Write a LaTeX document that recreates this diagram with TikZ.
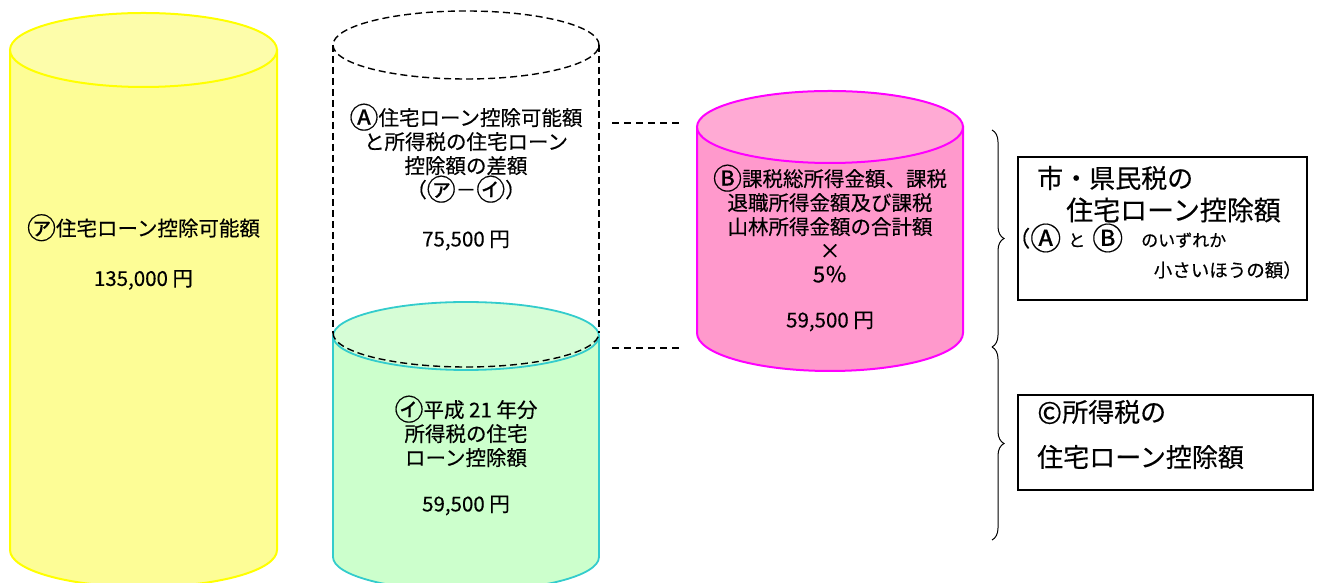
\documentclass[tikz,border=0pt]{standalone}
\usepackage{fontspec}
\setmainfont{Noto Sans CJK JP}[UprightFeatures={FakeBold=0.35}]
\usetikzlibrary{decorations.pathreplacing}
\definecolor{ybody}{HTML}{FDFD96}
\definecolor{ytop}{HTML}{FDFDAA}
\definecolor{yline}{HTML}{FFFF00}
\definecolor{gbody}{HTML}{CCFFCC}
\definecolor{gtop}{HTML}{D6FDD6}
\definecolor{gline}{HTML}{33CCCC}
\definecolor{pbody}{HTML}{FF99CC}
\definecolor{ptop}{HTML}{FFAAD4}
\definecolor{pline}{HTML}{FF00FF}
\newcommand\encbig[1]{\raisebox{-2.8pt}{\fontsize{29}{29}\selectfont #1}}
\newcommand\encbox[1]{\raisebox{-3.2pt}{\fontsize{31}{31}\selectfont #1}}
\begin{document}
\begin{tikzpicture}[x=1pt,y=1pt,
  ycyl/.style={draw=yline,fill=ybody,line width=2pt},
  ycap/.style={draw=yline,fill=ytop,line width=2pt},
  gcyl/.style={draw=gline,fill=gbody,line width=1.8pt},
  gcap/.style={draw=gline,fill=gtop,line width=1.8pt},
  pcyl/.style={draw=pline,fill=pbody,line width=2pt},
  pcap/.style={draw=pline,fill=ptop,line width=2pt},
  dcyl/.style={draw=black,line width=1.4pt,dash pattern=on 7pt off 4pt},
  linkline/.style={draw=black,line width=1.4pt,dash pattern=on 7pt off 5pt},
  cyltext/.style={align=center,font=\fontsize{20.5}{24}\selectfont,text=black,inner sep=0pt},
  framebox/.style={draw=black,line width=1.2pt},
  bracestyle/.style={draw=black,line width=1pt,decorate,decoration={brace,amplitude=12pt}}
]
\useasboundingbox (0,0) rectangle (1319,583);
% yellow cylinder
\draw[ycyl] (277,533) -- (10,533) -- (10,33) arc[start angle=180,end angle=360,x radius=133.5,y radius=37] -- cycle;
\draw[ycap] (143.5,533) ellipse[x radius=133.5,y radius=37];
% green cylinder
\draw[gcyl] (599,247) -- (333,247) -- (333,26) arc[start angle=180,end angle=360,x radius=133,y radius=34] -- cycle;
\draw[gcap] (466,247) ellipse[x radius=133,y radius=34];
% dashed cylinder
\draw[dcyl] (466,538) ellipse[x radius=133,y radius=34];
\draw[dcyl] (333,538) -- (333,250);
\draw[dcyl] (599,538) -- (599,250);
\draw[dcyl] (333,250) arc[start angle=180,end angle=360,x radius=133,y radius=34];
% pink cylinder
\draw[pcyl] (963,456) -- (697,456) -- (697,250) arc[start angle=180,end angle=360,x radius=133,y radius=38] -- cycle;
\draw[pcap] (830,456) ellipse[x radius=133,y radius=36];
% texts in cylinders
\node[cyltext] (ytext) at (143.5,331) {\encbig{㋐}住宅ローン控除可能額\\[26pt]135,000 円};
\node[cyltext] (dtext) at (466,406) {\encbig{Ⓐ}住宅ローン控除可能額\\と所得税の住宅ローン\\控除額の差額\\（\encbig{㋐}－\encbig{㋑}）\\[25pt]75,500 円};
\node[cyltext] (gtext) at (466,127.5) {\encbig{㋑}平成 21 年分\\所得税の住宅\\ローン控除額\\[22pt]59,500 円};
\node[cyltext] (ptext) at (830,335) {\encbig{Ⓑ}課税総所得金額、課税\\退職所得金額及び課税\\山林所得金額の合計額\\×\\{\fontsize{22}{24}\selectfont 5％}\\[21pt]59,500 円};
% dashed links
\coordinate (l1a) at (612,460);
\coordinate (l1b) at (683,460);
\coordinate (l2a) at (612,235);
\coordinate (l2b) at (683,235);
\draw[linkline] (l1a) -- (l1b);
\draw[linkline] (l2a) -- (l2b);
% braces
\coordinate (br1t) at (992,453);
\coordinate (br1b) at (992,236);
\coordinate (br2t) at (992,236);
\coordinate (br2b) at (992,43);
\draw[bracestyle] (br1t) -- (br1b);
\draw[bracestyle] (br2t) -- (br2b);
% boxes
\draw[framebox] (1018,426) rectangle (1307,283);
\draw[framebox] (1018,188) rectangle (1313,93);
\node[anchor=west,inner sep=0pt,font=\fontsize{26}{30}\selectfont] (b1l1) at (1037,405) {市・県民税の};
\node[anchor=west,inner sep=0pt,font=\fontsize{27}{30}\selectfont] (b1l2) at (1066,373) {住宅ローン控除額};
\node[anchor=west,inner sep=0pt,font=\fontsize{22}{24}\selectfont] (b1l3) at (1008,345) {（\encbox{Ⓐ}\hspace{7pt}{\fontsize{17}{20}\selectfont と}\hspace{7pt}\encbox{Ⓑ}\hspace{18pt}{\fontsize{17}{20}\selectfont のいずれか}};
\node[anchor=east,inner sep=0pt,font=\fontsize{18.5}{22}\selectfont] (b1l4) at (1302,313) {小さいほうの額）};
\node[anchor=west,inner sep=0pt,font=\fontsize{26}{30}\selectfont] (b2l1) at (1037,171) {\raisebox{-2pt}{\fontsize{30}{30}\selectfont ©}所得税の};
\node[anchor=west,inner sep=0pt,font=\fontsize{26}{30}\selectfont] (b2l2) at (1037,126) {住宅ローン控除額};
\end{tikzpicture}
\end{document}
